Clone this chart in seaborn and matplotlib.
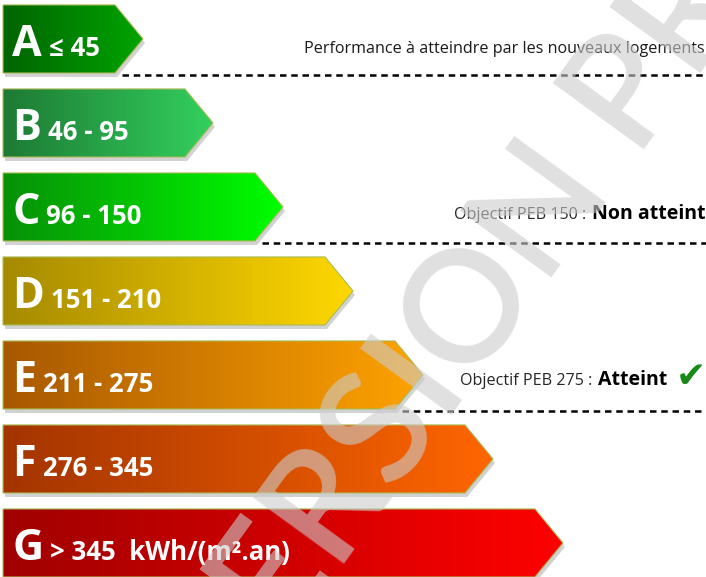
import numpy as np
import matplotlib
matplotlib.use("Agg")
import matplotlib.pyplot as plt
from matplotlib.colors import LinearSegmentedColormap, to_rgb
from matplotlib.patches import Polygon
from matplotlib.font_manager import FontProperties
from matplotlib import transforms
import seaborn as sns

# energy classes and their ranges (kWh/(m².an))
classes = ["A", "B", "C", "D", "E", "F", "G"]
ranges = ["≤ 45", "46 - 95", "96 - 150", "151 - 210", "211 - 275", "276 - 345", "> 345  kWh/(m².an)"]
# bar length per class (arrow body, in class steps)
bar_ends = [1.6, 2.6, 3.6, 4.6, 5.6, 6.6, 7.6]
# gradient colours (left -> right)
left_colors = ["#006400", "#1d7a34", "#079007", "#a68a00", "#a85800", "#a33400", "#a00000"]
right_colors = ["#00a400", "#33d05e", "#00ff00", "#ffd800", "#ffa300", "#ff6600", "#ff0000"]

# reference lines below some classes
note_classes = ["A", "C", "E"]
note_labels = ["Performance à atteindre par les nouveaux logements",
               "Objectif PEB 150 : ", "Objectif PEB 275 : "]
note_status = ["", "Non atteint", "Atteint"]

sns.set_theme(style="white")
plt.rcParams["font.family"] = ["Open Sans", "DejaVu Sans"]

fig = plt.figure(figsize=(7.06, 5.77), dpi=100)
ax = fig.add_axes([0, 0, 1, 1])

sns.barplot(x=bar_ends, y=classes, orient="h", width=0.81, color="white", ax=ax)

tip = 0.4
shadow_tr = transforms.offset_copy(ax.transData, fig=fig, x=2, y=-4, units="dots")
bar_geom = {}
for i, p in enumerate(ax.patches[:len(classes)]):
    x0, y0, w, h = p.get_x(), p.get_y(), p.get_width(), p.get_height()
    p.set_visible(False)
    yc = y0 + h / 2
    pts = [(x0, y0), (x0 + w, y0), (x0 + w + tip, yc), (x0 + w, y0 + h), (x0, y0 + h)]
    # soft shadow
    ax.add_patch(Polygon(pts, closed=True, facecolor="#7f7f7f", alpha=0.35,
                         edgecolor="none", transform=shadow_tr, zorder=1))
    poly = Polygon(pts, closed=True, facecolor="none", edgecolor="#a9bb55",
                   lw=0.8, zorder=3)
    ax.add_patch(poly)
    cmap = LinearSegmentedColormap.from_list("g", [to_rgb(left_colors[i]), to_rgb(right_colors[i])])
    grad = cmap(np.linspace(0, 1, 256))[None, :, :3]
    im = ax.imshow(grad, extent=[x0, x0 + w + tip, y0 + h, y0], aspect="auto",
                   interpolation="bilinear", zorder=2)
    im.set_clip_path(poly)
    bar_geom[classes[i]] = (x0, y0, w, h)

    # class letter and range
    base = yc + 0.2
    letter = ax.text(x0 + 0.13, base, classes[i], color="white", fontsize=31,
                     fontweight="bold", va="baseline", ha="left", zorder=5)
    ax.annotate(ranges[i], xy=(1, base), xycoords=(letter, "data"),
                xytext=(5, 0), textcoords="offset points", color="white",
                fontsize=18.5, fontweight="bold", va="baseline", ha="left", zorder=5)

ax.set_xlim(-0.043, 10.043)
ax.set_ylim(6.405, -0.464)
ax.axis("off")

# dashed reference lines and notes
ytr = ax.get_yaxis_transform()
note_offsets = [0.17, 0.14, 0.12]
for cls, lab, status, off in zip(note_classes, note_labels, note_status, note_offsets):
    x0, y0, w, h = bar_geom[cls]
    ybot = y0 + h + 0.02
    ax.plot([x0 + w + 0.1, 10.1], [ybot, ybot], color="black", lw=1.8,
            ls=(0, (2.6, 1.9)), zorder=4)
    base = y0 + h / 2 + off
    if status == "":
        ax.text(0.998, base, lab, transform=ytr, ha="right", va="baseline",
                fontsize=11.6, color="#1a1a1a", zorder=5)
    else:
        if status == "Atteint":
            chk = ax.text(1.0, base + 0.02, "✔", transform=ytr, ha="right", va="baseline",
                          fontsize=26, color="#178a17", family="DejaVu Sans", zorder=5)
            st = ax.annotate(status, xy=(0, base), xycoords=(chk, "data"),
                             xytext=(-6, 0), textcoords="offset points", ha="right",
                             va="baseline", fontsize=14, fontweight="bold",
                             color="black", zorder=5)
        else:
            st = ax.text(0.999, base, status, transform=ytr, ha="right", va="baseline",
                         fontsize=14, fontweight="bold", color="black", zorder=5)
        ax.annotate(lab, xy=(0, base), xycoords=(st, "data"), xytext=(-1, 0),
                    textcoords="offset points", ha="right", va="baseline",
                    fontsize=11.6, color="#262626", zorder=5)

# watermark: place it so that the "O" of VERSION sits where it is in the original
wm_text = "VERSION PROVISOIRE"
wm_angle = 54
wm_prop = FontProperties(family=["Lato", "Open Sans"], weight="semibold", size=112)
renderer = fig.canvas.get_renderer()
w_pre, _, _ = renderer.get_text_width_height_descent("VERSI", wm_prop, ismath=False)
w_o, h_o, d_o = renderer.get_text_width_height_descent("O", wm_prop, ismath=False)
o_center = np.array([462.0, 305.0])  # pixels from top-left
th = np.radians(wm_angle)
u = np.array([np.cos(th), -np.sin(th)])
up = np.array([-np.sin(th), -np.cos(th)])
start = o_center - (w_pre + w_o / 2) * u - ((h_o - d_o) / 2) * up
fig.text(start[0] / 706, 1 - start[1] / 577, wm_text, rotation=wm_angle,
         rotation_mode="anchor", ha="left", va="baseline", fontproperties=wm_prop,
         color="#cccccc", alpha=0.6, zorder=10)

fig.savefig("out.png", dpi=100)
